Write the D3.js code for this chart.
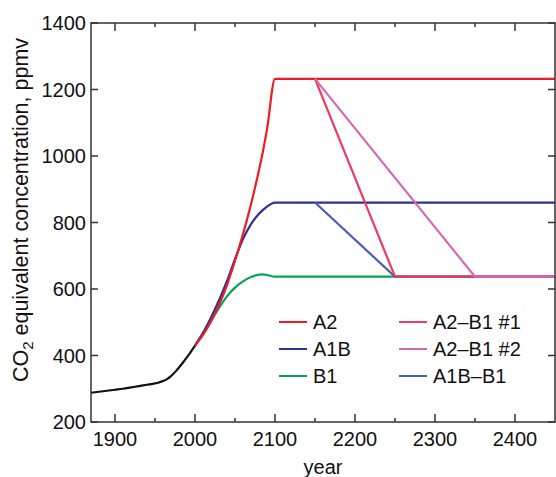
<!DOCTYPE html>
<html>
<head>
<meta charset="utf-8">
<script src="https://cdn.jsdelivr.net/npm/d3@7"></script>
<style>
  body { margin: 0; background: #fff; }
  svg text { font-family: "Liberation Sans", Arial, sans-serif; fill: #111; }
</style>
</head>
<body>
<script>
// historical record and scenario paths (year, ppmv)
var histYears = [1870, 1880, 1890, 1900, 1910, 1920, 1930, 1940, 1950, 1955, 1960, 1965, 1970, 1975, 1980, 1985, 1990, 1995, 2000];
var histVals  = [288, 291, 294, 297, 300, 304, 308, 312, 316, 319, 323, 329, 338, 350, 364, 379, 395, 412, 430];

var scenYears = [2000, 2010, 2020, 2030, 2040, 2050, 2060, 2070, 2080, 2085, 2090, 2100, 2450];
var a2Vals    = [430, 462, 503, 552, 612, 685, 765, 855, 958, 1015, 1080, 1232, 1232];
var a1bVals   = [430, 468, 514, 566, 624, 690, 750, 795, 826, 838, 848, 860, 860];
var b1Vals    = [430, 464, 503, 543, 578, 604, 623, 636, 643, 644, 642, 637, 637];

var stabYears1 = [2150, 2250, 2450];
var a2b1n1Vals = [1232, 637, 637];
var stabYears2 = [2150, 2350, 2450];
var a2b1n2Vals = [1232, 637, 637];
var a1bb1Vals  = [860, 637, 637];

var legendNames  = ["A2", "A1B", "B1", "A2\u2013B1 #1", "A2\u2013B1 #2", "A1B\u2013B1"];
var legendColors = ["#ec1c24", "#2e3192", "#00a651", "#ee3a5e", "#d868b4", "#4a5db4"];

var xTicks = [1900, 2000, 2100, 2200, 2300, 2400];
var xMinor = [1900, 1950, 2000, 2050, 2100, 2150, 2200, 2250, 2300, 2350, 2400];
var yTicks = [200, 400, 600, 800, 1000, 1200, 1400];

function zip(xs, ys) { return xs.map(function(v, i) { return [v, ys[i]]; }); }

var width = 556, height = 477;
var pL = 91, pR = 555, pT = 23, pB = 422;

var x = d3.scaleLinear().domain([1870, 2450]).range([pL, pR]);
var y = d3.scaleLinear().domain([200, 1400]).range([pB, pT]);

var svg = d3.select("body").append("svg")
  .attr("width", width)
  .attr("height", height);

var line = d3.line()
  .x(function(d) { return x(d[0]); })
  .y(function(d) { return y(d[1]); });
var smooth = d3.line()
  .curve(d3.curveMonotoneX)
  .x(function(d) { return x(d[0]); })
  .y(function(d) { return y(d[1]); });

var series = [
  { d: zip(scenYears, b1Vals),   c: legendColors[2], f: smooth },
  { d: zip(scenYears, a1bVals),  c: legendColors[1], f: smooth },
  { d: zip(scenYears, a2Vals),   c: legendColors[0], f: smooth },
  { d: zip(stabYears1, a1bb1Vals),  c: legendColors[5], f: line },
  { d: zip(stabYears1, a2b1n1Vals), c: legendColors[3], f: line },
  { d: zip(stabYears2, a2b1n2Vals), c: legendColors[4], f: line },
  { d: zip(histYears, histVals), c: "#111", f: smooth }
];

svg.selectAll(".series")
    .data(series)
  .enter().append("path")
    .attr("class", "series")
    .attr("d", function(s) { return s.f(s.d); })
    .style("fill", "none")
    .style("stroke", function(s) { return s.c; })
    .style("stroke-width", 2.2)
    .style("stroke-linejoin", "round");

// frame
svg.append("rect")
  .attr("x", pL).attr("y", pT)
  .attr("width", pR - pL).attr("height", pB - pT)
  .style("fill", "none").style("stroke", "#333").style("stroke-width", 1.5);

// inward ticks on all four sides
var tk = svg.append("g").style("stroke", "#333").style("stroke-width", 1.5);
xMinor.forEach(function(v) {
  var len = (v % 100 === 0) ? 8 : 4;
  tk.append("line").attr("x1", x(v)).attr("x2", x(v)).attr("y1", pB).attr("y2", pB - len);
  tk.append("line").attr("x1", x(v)).attr("x2", x(v)).attr("y1", pT).attr("y2", pT + len);
});
yTicks.forEach(function(v) {
  tk.append("line").attr("x1", pL).attr("x2", pL + 7).attr("y1", y(v)).attr("y2", y(v));
  tk.append("line").attr("x1", pR).attr("x2", pR - 7).attr("y1", y(v)).attr("y2", y(v));
});

svg.selectAll(".xl")
    .data(xTicks)
  .enter().append("text")
    .attr("x", function(d) { return x(d); })
    .attr("y", pB + 24)
    .style("text-anchor", "middle")
    .style("font-size", "20px")
    .text(function(d) { return d; });

svg.selectAll(".yl")
    .data(yTicks)
  .enter().append("text")
    .attr("x", pL - 5)
    .attr("y", function(d) { return y(d) + 7; })
    .style("text-anchor", "end")
    .style("font-size", "20px")
    .text(function(d) { return d; });

svg.append("text")
  .attr("x", (pL + pR) / 2)
  .attr("y", 474)
  .style("text-anchor", "middle")
  .style("font-size", "20px")
  .text("year");

var yl = svg.append("text")
  .attr("transform", "translate(28,210) rotate(-90)")
  .style("text-anchor", "middle")
  .style("font-size", "21.5px");
yl.append("tspan").text("CO");
yl.append("tspan").attr("dy", 5).style("font-size", "15px").text("2");
yl.append("tspan").attr("dy", -5).text(" equivalent concentration, ppmv");

// legend
var leg = svg.append("g");
legendNames.forEach(function(name, i) {
  var col = Math.floor(i / 3), row = i % 3;
  var lx = col === 0 ? 279 : 399, ly = 322 + row * 27;
  leg.append("line")
    .attr("x1", lx).attr("x2", lx + 28).attr("y1", ly).attr("y2", ly)
    .style("stroke", legendColors[i]).style("stroke-width", 2);
  leg.append("text")
    .attr("x", lx + 34).attr("y", ly + 7)
    .style("font-size", "20px")
    .text(name);
});
</script>
</body>
</html>
